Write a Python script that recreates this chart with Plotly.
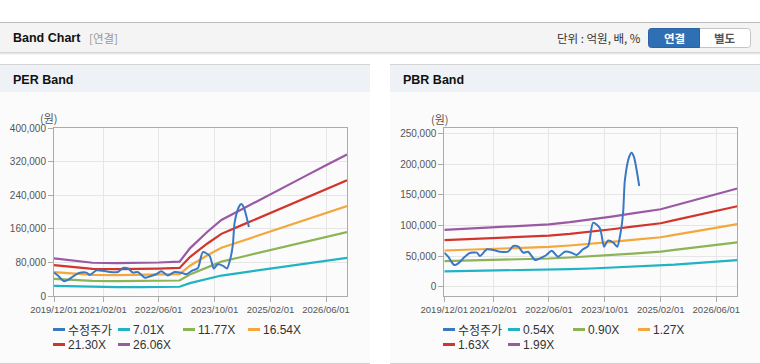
import plotly.graph_objects as go

# ---------------- data ----------------
price_dates = ['2019-12-01', '2020-01-04', '2020-02-25', '2020-04-01', '2020-05-15', '2020-07-06',
               '2020-09-10', '2020-10-07', '2020-12-07', '2021-02-01', '2021-04-01', '2021-06-10',
               '2021-07-25', '2021-09-07', '2021-10-20', '2021-12-01', '2022-02-01', '2022-03-15',
               '2022-05-10', '2022-06-25', '2022-08-20', '2022-10-18', '2022-12-15', '2023-01-28',
               '2023-03-25', '2023-05-10', '2023-06-22', '2023-08-20', '2023-09-25', '2023-10-28',
               '2023-12-15', '2024-01-18', '2024-02-18', '2024-03-10', '2024-03-25', '2024-05-01',
               '2024-05-22', '2024-06-12', '2024-07-28']
price = [55600, 49000, 35500, 38200, 46400, 54600, 55600, 50200, 61100, 60000, 57200, 57200,
         66500, 65400, 55600, 57200, 43600, 46400, 51800, 58800, 49000, 57200, 55600, 51800,
         61100, 66500, 104600, 95400, 65400, 75200, 71900, 65400, 89900, 122500, 174000, 212000,
         219000, 212000, 164500]

per_band_dates = ['2019-12-01', '2020-06-01', '2020-11-01', '2021-06-01', '2022-01-01', '2022-06-01',
                  '2022-12-01', '2023-03-01', '2023-08-01', '2023-12-01', '2024-06-01', '2025-01-01',
                  '2025-06-01', '2025-12-01', '2026-06-01', '2026-12-01']
per_701 = [24160, 22570, 21310, 21100, 21170, 21450, 21980, 30530, 41160, 48690, 55730, 63790, 69750, 76760, 83770, 90650]
per_1177 = [40560, 37900, 35780, 35430, 35550, 36020, 36900, 51260, 69100, 81750, 93570, 107110, 117110, 128880, 140650, 152210]
per_1654 = [57000, 53260, 50280, 49790, 49950, 50610, 51850, 72030, 97110, 114890, 131490, 150510, 164570, 181110, 197650, 213900]
per_2130 = [73400, 68590, 64750, 64110, 64330, 65180, 66780, 92760, 125050, 147950, 169340, 193830, 211940, 233240, 254540, 275450]
per_2606 = [89800, 83910, 79220, 78440, 78700, 79740, 81700, 113490, 153000, 181010, 207180, 237150, 259300, 285360, 311420, 337010]

pbr_band_dates = ['2019-12-01', '2020-06-01', '2020-12-01', '2021-06-01', '2021-12-01', '2022-06-01',
                  '2022-12-01', '2023-06-01', '2023-12-01', '2024-06-01', '2024-12-01', '2025-02-01',
                  '2025-06-01', '2025-12-01', '2026-06-01', '2026-12-01']
pbr_054 = [25160, 25600, 26030, 26570, 27000, 27650, 28620, 29700, 31100, 32510, 33910, 34340, 36020, 38500, 40930, 43520]
pbr_090 = [41940, 42660, 43380, 44280, 45000, 46080, 47700, 49500, 51840, 54180, 56520, 57240, 60030, 64170, 68220, 72540]
pbr_127 = [59180, 60200, 61210, 62480, 63500, 65020, 67310, 69850, 73150, 76450, 79760, 80770, 84710, 90550, 96270, 102360]
pbr_163 = [75960, 77260, 78570, 80200, 81500, 83460, 86390, 89650, 93890, 98130, 102360, 103670, 108720, 116220, 123550, 131380]
pbr_199 = [92730, 94330, 95920, 97910, 99500, 101890, 105470, 109450, 114620, 119800, 124970, 126560, 132730, 141890, 150840, 160390]

x_tick_vals = ['2019-12-01', '2021-02-01', '2022-06-01', '2023-10-01', '2025-02-01', '2026-06-01']
x_tick_text = ['2019/12/01', '2021/02/01', '2022/06/01', '2023/10/01', '2025/02/01', '2026/06/01']
per_y_ticks = [0, 80000, 160000, 240000, 320000, 400000]
per_y_text = ['0', '80,000', '160,000', '240,000', '320,000', '400,000']
pbr_y_ticks = [0, 50000, 100000, 150000, 200000, 250000]
pbr_y_text = ['0', '50,000', '100,000', '150,000', '200,000', '250,000']

per_names = ['수정주가', '7.01X', '11.77X', '16.54X', '21.30X', '26.06X']
pbr_names = ['수정주가', '0.54X', '0.90X', '1.27X', '1.63X', '1.99X']
colors = ['#3b78c2', '#1fb3c3', '#8cb356', '#f4a73a', '#d2352b', '#9a5aa3']

# ---------------- helpers ----------------
W, H = 760, 364
def px(x): return x / W
def py(y): return 1 - y / H

NUM_FONT = 'Liberation Sans'
KR_FONT = 'Noto Sans CJK KR'

fig = go.Figure()

per_series = [per_701, per_1177, per_1654, per_2130, per_2606]
pbr_series = [pbr_054, pbr_090, pbr_127, pbr_163, pbr_199]

for i, s in enumerate(per_series):
    fig.add_trace(go.Scatter(x=per_band_dates, y=s, mode='lines', name=per_names[i + 1],
                             line=dict(color=colors[i + 1], width=2.2), showlegend=False,
                             xaxis='x', yaxis='y'))
fig.add_trace(go.Scatter(x=price_dates, y=price, mode='lines', name=per_names[0],
                         line=dict(color=colors[0], width=2, shape='spline', smoothing=0.7),
                         showlegend=False, xaxis='x', yaxis='y'))
for i, s in enumerate(pbr_series):
    fig.add_trace(go.Scatter(x=pbr_band_dates, y=s, mode='lines', name=pbr_names[i + 1],
                             line=dict(color=colors[i + 1], width=2.2), showlegend=False,
                             xaxis='x2', yaxis='y2'))
fig.add_trace(go.Scatter(x=price_dates, y=price, mode='lines', name=pbr_names[0],
                         line=dict(color=colors[0], width=2, shape='spline', smoothing=0.7),
                         showlegend=False, xaxis='x2', yaxis='y2'))

axis_common = dict(showgrid=True, gridcolor='#e6e6e6', gridwidth=1, showline=True,
                   linecolor='#ababab', linewidth=1, mirror=True, ticks='outside', ticklen=5,
                   tickcolor='#ababab', tickfont=dict(family=NUM_FONT, size=10, color='#555555'),
                   zeroline=False, fixedrange=True, automargin=False, tickangle=0)

fig.update_layout(
    width=W, height=H, margin=dict(l=0, r=0, t=0, b=0, pad=0, autoexpand=False),
    paper_bgcolor='#ffffff', plot_bgcolor='rgba(0,0,0,0)',
    xaxis=dict(domain=[px(54), px(347)], type='date', range=['2019-12-01', '2026-12-01'],
               tickvals=x_tick_vals, ticktext=x_tick_text, anchor='y', **axis_common),
    yaxis=dict(domain=[py(296), py(128)], range=[0, 400000], tickvals=per_y_ticks,
               ticktext=per_y_text, anchor='x', **axis_common),
    xaxis2=dict(domain=[px(444.3), px(737.3)], type='date', range=['2019-12-01', '2026-12-01'],
                tickvals=x_tick_vals, ticktext=x_tick_text, anchor='y2', **axis_common),
    yaxis2=dict(domain=[py(295.7), py(128.3)], range=[-14700, 258800], tickvals=pbr_y_ticks,
                ticktext=pbr_y_text, anchor='x2', **axis_common),
)
fig.update_xaxes(tickfont=dict(size=9.5))

shapes = []
def rect(x0, y0, x1, y1, fill, line=None, lw=0):
    shapes.append(dict(type='rect', xref='paper', yref='paper', x0=px(x0), x1=px(x1),
                       y0=py(y1), y1=py(y0), fillcolor=fill, layer='below',
                       line=dict(color=line or fill, width=lw)))
def hline(x0, x1, y, color, w=1):
    shapes.append(dict(type='line', xref='paper', yref='paper', x0=px(x0), x1=px(x1),
                       y0=py(y), y1=py(y), line=dict(color=color, width=w), layer='below'))

# header bar
rect(0, 22, 760, 53, '#f4f4f4')
hline(0, 760, 22.5, '#bdbdbd')
hline(0, 760, 52.5, '#d6d6d6')
hline(0, 760, 53.5, '#e9e9e9')
hline(0, 760, 54.5, '#f4f4f4')

# panels
for (a, b) in [(0, 370), (390, 760)]:
    rect(a, 92, b, 363, '#fbfbfc')
    rect(a, 64, b, 92, '#eef1f6')
    hline(a, b, 64.5, '#d4d4d4')
    hline(a, b, 363.5, '#d0d0d0')

# buttons (rounded)
def rounded_path(x0, y0, x1, y1, r, left=True, right=True):
    X = lambda v: px(v)
    Y = lambda v: py(v)
    p = ''
    if left:
        p += f'M {X(x0 + r)},{Y(y0)} '
    else:
        p += f'M {X(x0)},{Y(y0)} '
    if right:
        p += f'L {X(x1 - r)},{Y(y0)} Q {X(x1)},{Y(y0)} {X(x1)},{Y(y0 + r)} '
        p += f'L {X(x1)},{Y(y1 - r)} Q {X(x1)},{Y(y1)} {X(x1 - r)},{Y(y1)} '
    else:
        p += f'L {X(x1)},{Y(y0)} L {X(x1)},{Y(y1)} '
    if left:
        p += f'L {X(x0 + r)},{Y(y1)} Q {X(x0)},{Y(y1)} {X(x0)},{Y(y1 - r)} '
        p += f'L {X(x0)},{Y(y0 + r)} Q {X(x0)},{Y(y0)} {X(x0 + r)},{Y(y0)} Z'
    else:
        p += f'L {X(x0)},{Y(y1)} Z'
    return p

shapes.append(dict(type='path', xref='paper', yref='paper', path=rounded_path(648.5, 28.5, 750.5, 47.5, 3),
                   fillcolor='#ffffff', line=dict(color='#c4c4c4', width=1), layer='below'))
shapes.append(dict(type='path', xref='paper', yref='paper', path=rounded_path(648.5, 28.5, 699.5, 47.5, 3, right=False),
                   fillcolor='#2f6fb4', line=dict(color='#2a62a3', width=1), layer='below'))

# legends (manual)
def legend(names, cols, rows_y):
    out = []
    for k, name in enumerate(names):
        row, col = divmod(k, 4)
        x0 = cols[col]
        y = rows_y[row]
        shapes.append(dict(type='line', xref='paper', yref='paper', x0=px(x0), x1=px(x0 + 12),
                           y0=py(y), y1=py(y), line=dict(color=colors[k], width=3)))
        font = KR_FONT if k == 0 else NUM_FONT
        out.append(dict(x=px(x0 + 13), y=py(y), xref='paper', yref='paper', text=name,
                        showarrow=False, xanchor='left', yanchor='middle',
                        font=dict(family=font, size=12, color='#333333')))
    return out

annotations = []
annotations += legend(per_names, [53, 118, 183, 248], [329.5, 344.5])
annotations += legend(pbr_names, [443, 508, 573, 638], [329.5, 344.5])

def text(x, y, s, size, color, family=KR_FONT, anchor='left', bold=False):
    if bold:
        s = '<b>' + s + '</b>'
    annotations.append(dict(x=px(x), y=py(y), xref='paper', yref='paper', text=s, showarrow=False,
                            xanchor=anchor, yanchor='middle',
                            font=dict(family=family, size=size, color=color)))

text(11, 38.5, 'Band Chart', 12.5, '#111111', family=NUM_FONT, bold=True)
text(87, 38.5, '[연결]', 11.5, '#999999')
text(643, 38.5, '단위 : 억원, 배, %', 11.5, '#333333', anchor='right')
text(674, 38, '연결', 11.5, '#ffffff', bold=True, anchor='center')
text(725, 38, '별도', 11.5, '#555555', bold=True, anchor='center')
text(11, 79.5, 'PER Band', 12.5, '#111111', family=NUM_FONT, bold=True)
text(401, 79.5, 'PBR Band', 12.5, '#111111', family=NUM_FONT, bold=True)
text(49.5, 118, '(원)', 11, '#555555', anchor='center')
text(439.5, 119, '(원)', 11, '#555555', anchor='center')

fig.update_layout(shapes=shapes, annotations=annotations)
fig.write_html('out.html', config={'displayModeBar': False, 'staticPlot': True},
               post_script="document.body.style.margin='0';document.body.style.overflow='hidden';")
